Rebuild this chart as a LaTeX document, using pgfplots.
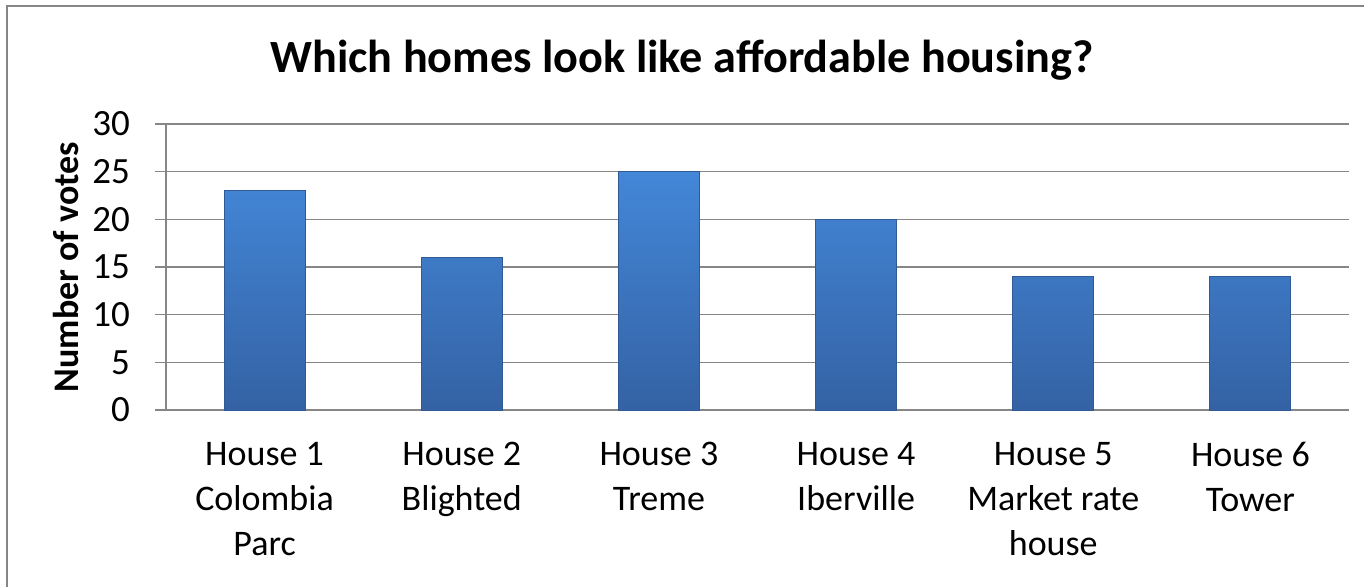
\documentclass[border=0pt]{standalone}
\usepackage{fontspec}
\setmainfont{Carlito}
\usepackage{pgfplots}
\pgfplotsset{compat=1.18}
\definecolor{gridgray}{HTML}{868686}
\definecolor{bartop}{HTML}{4387D8}
\definecolor{barbot}{HTML}{3462A4}
\definecolor{baredge}{HTML}{2F5A96}

\begin{document}
\begin{tikzpicture}
\path[use as bounding box] (0,0) rectangle (682pt,293pt);
% chart frame (only left and top visible)
\draw[gridgray, line width=1.1pt] (3.5pt,-10pt) -- (3.5pt,290pt) -- (700pt,290pt);
\node[font=\bfseries\fontsize{23.1}{28}\selectfont, anchor=base] at (341pt,257pt) {Which homes look like affordable housing?};
\begin{axis}[
    at={(83pt,88pt)}, anchor=south west,
    scale only axis,
    width=591.5pt, height=143pt,
    ybar, bar width=40.5pt,
    xmin=-0.5, xmax=5.5,
    ymin=0, ymax=30,
    ytick={0,5,...,30},
    xtick=data,
    xticklabels={{House 1\\Colombia\\Parc},{House 2\\Blighted},{House 3\\Treme},{House 4\\Iberville},{House 5\\Market rate\\house},{House 6\\Tower}},
    x tick label style={align=center, font=\fontsize{18}{22.5}\selectfont, anchor=north, yshift=-7pt},
    y tick label style={font=\fontsize{18.5}{22}\selectfont, xshift=-9pt},
    /pgf/number format/assume math mode=true,
    major x tick style={draw=none},
    ytick pos=left,
    tick align=outside,
    major tick length=5.5pt,
    ymajorgrids, grid style={gridgray, line width=0.8pt},
    axis x line*=bottom, axis y line*=left,
    axis line style={gridgray, line width=0.8pt, -},
    y tick style={gridgray, line width=0.8pt},
    ylabel={Number of votes},
    every axis y label/.style={at={(ticklabel cs:0.5)}, rotate=90, anchor=south,
        font=\bfseries\fontsize{18}{22}\selectfont},
]
\addplot[draw=baredge, line width=0.5pt, top color=bartop, bottom color=barbot]
    coordinates {(0,23) (1,16) (2,25) (3,20) (4,14) (5,14)};
\end{axis}
\end{tikzpicture}
\end{document}
